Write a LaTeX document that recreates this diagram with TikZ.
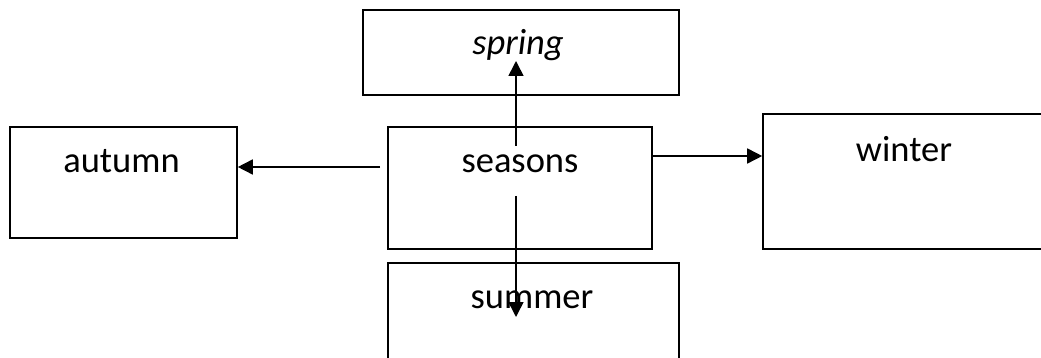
\documentclass[tikz,border=0pt]{standalone}
\usepackage{fontspec}
\setmainfont{Carlito}
\usetikzlibrary{arrows.meta}
\begin{document}
\begin{tikzpicture}[x=1pt,y=-1pt,
  box/.style={draw,line width=1.6pt,inner sep=0pt},
  lbl/.style={anchor=base,inner sep=0pt,font=\fontsize{36.5}{44}\selectfont},
  link/.style={line width=1.6pt,-{Triangle[length=15pt,width=15pt]}}]
\useasboundingbox (0,0) rectangle (1041,358);
\clip (0,0) rectangle (1041,358);
% boxes
\node[box,minimum width=316pt,minimum height=85pt]  (spring)  at (521,52.5)  {};
\node[box,minimum width=227pt,minimum height=111pt] (autumn)  at (123.5,182.5) {};
\node[box,minimum width=264pt,minimum height=122pt] (seasons) at (520,188)   {};
\node[box,minimum width=282pt,minimum height=135pt] (winter)  at (904,181.5) {};
\node[box,minimum width=291pt,minimum height=137pt] (summer)  at (533.5,331.5) {};
% labels
\node[lbl,font=\fontsize{36.5}{44}\selectfont\itshape] (t-spring) at (518,55) {spring};
\node[lbl] (t-autumn)  at (121.5,173) {autumn};
\node[lbl] (t-seasons) at (520,173) {seasons};
\node[lbl] (t-winter)  at (904,162) {winter};
\node[lbl] (t-summer)  at (532,308) {summer};
% connector ends
\coordinate (a-tail)  at (380,167);
\coordinate (w-level) at (0,156);
\coordinate (sp-tail) at (516,146);
\coordinate (sp-tip)  at (516,61);
\coordinate (su-tail) at (516,196);
\coordinate (su-tip)  at (516,317);
% arrows
\draw[link] (a-tail) -- (a-tail -| autumn.east);
\draw[link] (seasons.east |- w-level) -- (winter.west |- w-level);
\draw[link] (sp-tail) -- (sp-tip);
\draw[link] (su-tail) -- (su-tip);
\end{tikzpicture}
\end{document}
